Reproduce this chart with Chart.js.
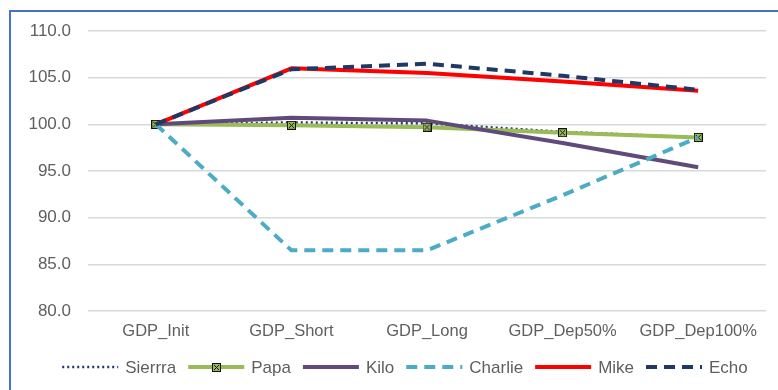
<!DOCTYPE html>
<html><head><meta charset="utf-8">
<script src="https://cdn.jsdelivr.net/npm/chart.js@4"></script>
<style>html,body{margin:0;padding:0;background:#fff}</style>
</head><body>
<canvas id="c" width="778" height="390"></canvas>
<script>
// Categories and series values
const categories = ['GDP_Init', 'GDP_Short', 'GDP_Long', 'GDP_Dep50%', 'GDP_Dep100%'];
const sierrra = [100.0, 100.2, 100.1, 99.2, 98.6];
const papa    = [100.0, 99.9, 99.7, 99.1, 98.6];
const kilo    = [100.0, 100.7, 100.4, 98.0, 95.4];
const charlie = [100.0, 86.5, 86.5, 92.4, 98.6];
const mike    = [100.0, 106.0, 105.5, 104.6, 103.6];
const echo    = [100.0, 105.9, 106.5, 105.2, 103.7];
// Value axis range
const yMin = 80, yMax = 110, yStep = 5;

const FONT = '"Liberation Sans", Arial, sans-serif';
const GREY = '#5f5f5f';

// Square marker with a cross, used by the Papa series
function crossMarker() {
  const s = 9, cv = document.createElement('canvas');
  cv.width = s; cv.height = s;
  const g = cv.getContext('2d');
  g.fillStyle = '#9BBB59';
  g.fillRect(0, 0, s, s);
  g.strokeStyle = '#111';
  g.lineWidth = 1;
  g.strokeRect(0.5, 0.5, s - 1, s - 1);
  g.beginPath();
  g.moveTo(2, 2); g.lineTo(s - 2, s - 2);
  g.moveTo(s - 2, 2); g.lineTo(2, s - 2);
  g.stroke();
  return cv;
}
const marker = crossMarker();

const series = [
  { label: 'Sierrra', data: sierrra, borderColor: '#1F3864', borderWidth: 2.5, borderDash: [2, 3], order: 5 },
  { label: 'Papa', data: papa, borderColor: '#9BBB59', borderWidth: 4, order: 4, pointStyle: marker, pointRadius: 4.5 },
  { label: 'Kilo', data: kilo, borderColor: '#604A7B', borderWidth: 4, order: 3 },
  { label: 'Charlie', data: charlie, borderColor: '#4BACC6', borderWidth: 4, borderDash: [11, 7], order: 2 },
  { label: 'Mike', data: mike, borderColor: '#FF0000', borderWidth: 4, order: 1 },
  { label: 'Echo', data: echo, borderColor: '#1F3864', borderWidth: 4, borderDash: [11, 7], order: 0 }
];

const datasets = series.map(s => Object.assign({
  fill: false,
  tension: 0,
  pointRadius: 0,
  pointHoverRadius: 0,
  borderCapStyle: 'butt',
  borderJoinStyle: 'round'
}, s));

// Outer frame of the chart
const framePlugin = {
  id: 'frame',
  beforeDraw(chart) {
    const ctx = chart.ctx;
    ctx.save();
    ctx.strokeStyle = '#4472C4';
    ctx.lineWidth = 2;
    ctx.beginPath();
    ctx.moveTo(10, chart.height);
    ctx.lineTo(10, 11);
    ctx.lineTo(chart.width, 11);
    ctx.stroke();
    ctx.restore();
  }
};

// Legend row drawn under the axis labels
const legendPlugin = {
  id: 'bottomLegend',
  afterDraw(chart) {
    const ctx = chart.ctx;
    const sample = 56, gapText = 7, gapItem = 12;
    ctx.save();
    ctx.font = '17px ' + FONT;
    ctx.textBaseline = 'middle';
    const items = chart.data.datasets.map(ds => ({ ds, w: ctx.measureText(ds.label).width }));
    const total = items.reduce((a, it) => a + sample + gapText + it.w, 0) + gapItem * (items.length - 1);
    let x = 405 - total / 2;
    const y = 367;
    items.forEach(it => {
      const ds = it.ds;
      ctx.save();
      ctx.strokeStyle = ds.borderColor;
      ctx.lineWidth = ds.borderWidth;
      ctx.setLineDash(ds.borderDash || []);
      ctx.beginPath();
      ctx.moveTo(x, y);
      ctx.lineTo(x + sample, y);
      ctx.stroke();
      ctx.restore();
      if (ds.pointStyle instanceof HTMLCanvasElement) {
        ctx.drawImage(ds.pointStyle, Math.round(x + sample / 2 - 4.5), Math.round(y - 4.5));
      }
      ctx.fillStyle = GREY;
      ctx.fillText(ds.label, x + sample + gapText, y + 1);
      x += sample + gapText + it.w + gapItem;
    });
    ctx.restore();
  }
};

new Chart(document.getElementById('c'), {
  type: 'line',
  data: { labels: categories, datasets },
  options: {
    responsive: false,
    devicePixelRatio: 1,
    animation: false,
    layout: { padding: { left: 0, right: 12, top: 31, bottom: 39 } },
    plugins: {
      legend: { display: false },
      tooltip: { enabled: false }
    },
    scales: {
      x: {
        offset: true,
        grid: { display: false, drawTicks: false },
        border: { display: false },
        ticks: { color: GREY, font: { family: FONT, size: 16.5 }, padding: 11, maxRotation: 0 },
        afterFit(scale) { scale.height = 40; }
      },
      y: {
        min: yMin,
        max: yMax,
        grid: { color: '#D9D9D9', lineWidth: 1.5, drawTicks: false },
        border: { display: false },
        ticks: {
          stepSize: yStep,
          color: GREY,
          font: { family: FONT, size: 17 },
          padding: 17,
          callback: v => Number(v).toFixed(1)
        },
        afterFit(scale) { scale.width = 88; }
      }
    }
  },
  plugins: [framePlugin, legendPlugin]
});
</script>
</body></html>
